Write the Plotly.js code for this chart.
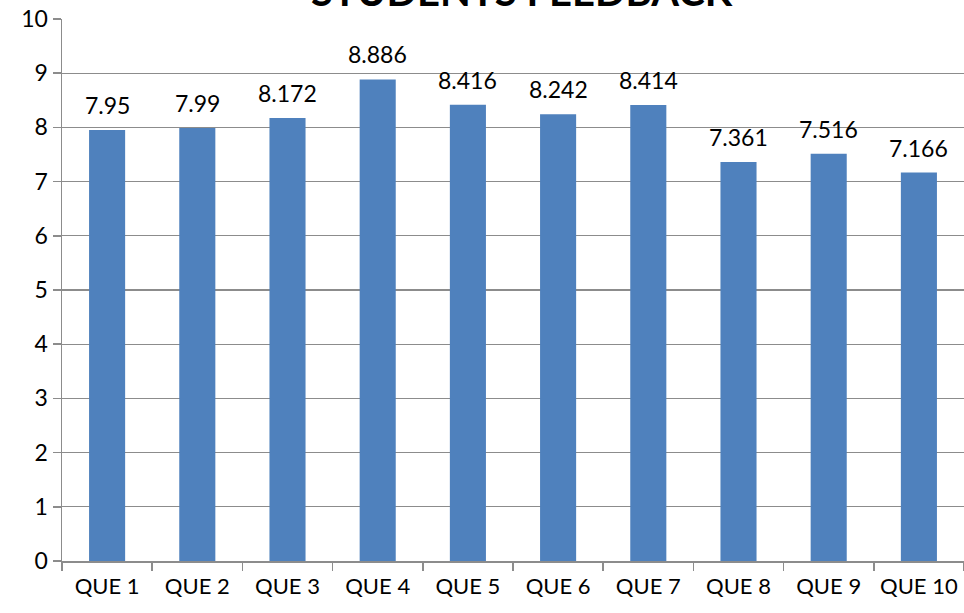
<!DOCTYPE html>
<html><head><meta charset="utf-8">
<script src="https://cdn.plot.ly/plotly-3.0.1.min.js"></script>
<style>html,body{margin:0;padding:0;background:#fff}#chart{width:964px;height:613px}</style>
</head><body><div id="chart"></div>
<script>
const categories = ["QUE 1","QUE 2","QUE 3","QUE 4","QUE 5","QUE 6","QUE 7","QUE 8","QUE 9","QUE 10"];
const scores = [7.95, 7.99, 8.172, 8.886, 8.416, 8.242, 8.414, 7.361, 7.516, 7.166];
const labels = ["7.95","7.99","8.172","8.886","8.416","8.242","8.414","7.361","7.516","7.166"];
const yTicks = [0,1,2,3,4,5,6,7,8,9,10];
const chartTitle = "STUDENTS FEEDBACK";

const font = "Lato, 'Open Sans', sans-serif";
const trace = {
  type: "bar", x: categories, y: scores,
  marker: {color: "#4F81BD"},
  hoverinfo: "x+y"
};
const annotations = categories.map((c, i) => ({
  x: c, y: scores[i], text: labels[i], showarrow: false,
  xref: "x", yref: "y", yanchor: "bottom", yshift: 9,
  font: {family: font, size: 23, color: "#000"}
}));
const layout = {
  width: 964, height: 613,
  margin: {l: 62, r: 0, t: 19, b: 52},
  paper_bgcolor: "#fff", plot_bgcolor: "#fff",
  bargap: 0.6,
  showlegend: false,
  title: {text: "<b>" + chartTitle + "</b>", x: 0.541, xanchor: "center",
          y: 0.99, yref: "container", yanchor: "bottom",
          font: {family: font, size: 40, color: "#000"}},
  xaxis: {type: "category", showline: true, linecolor: "#8c8c8c", linewidth: 1.5,
          ticks: "outside", tickson: "boundaries", ticklen: 8, tickcolor: "#8c8c8c", tickwidth: 1.5,
          tickangle: 0, automargin: false, ticklabelstandoff: 5,
          tickfont: {family: font, size: 22, color: "#000"}, showgrid: false},
  yaxis: {range: [0, 10], tickvals: yTicks, ticktext: yTicks.map(String),
          showline: true, linecolor: "#8c8c8c", linewidth: 1.5,
          ticks: "outside", ticklen: 8, tickcolor: "#8c8c8c", tickwidth: 1.5,
          showgrid: true, gridcolor: "#8c8c8c", gridwidth: 1.3, zeroline: false,
          tickfont: {family: font, size: 23, color: "#000"}},
  annotations: annotations
};
Plotly.newPlot("chart", [trace], layout, {displayModeBar: false, staticPlot: true});
</script></body></html>
